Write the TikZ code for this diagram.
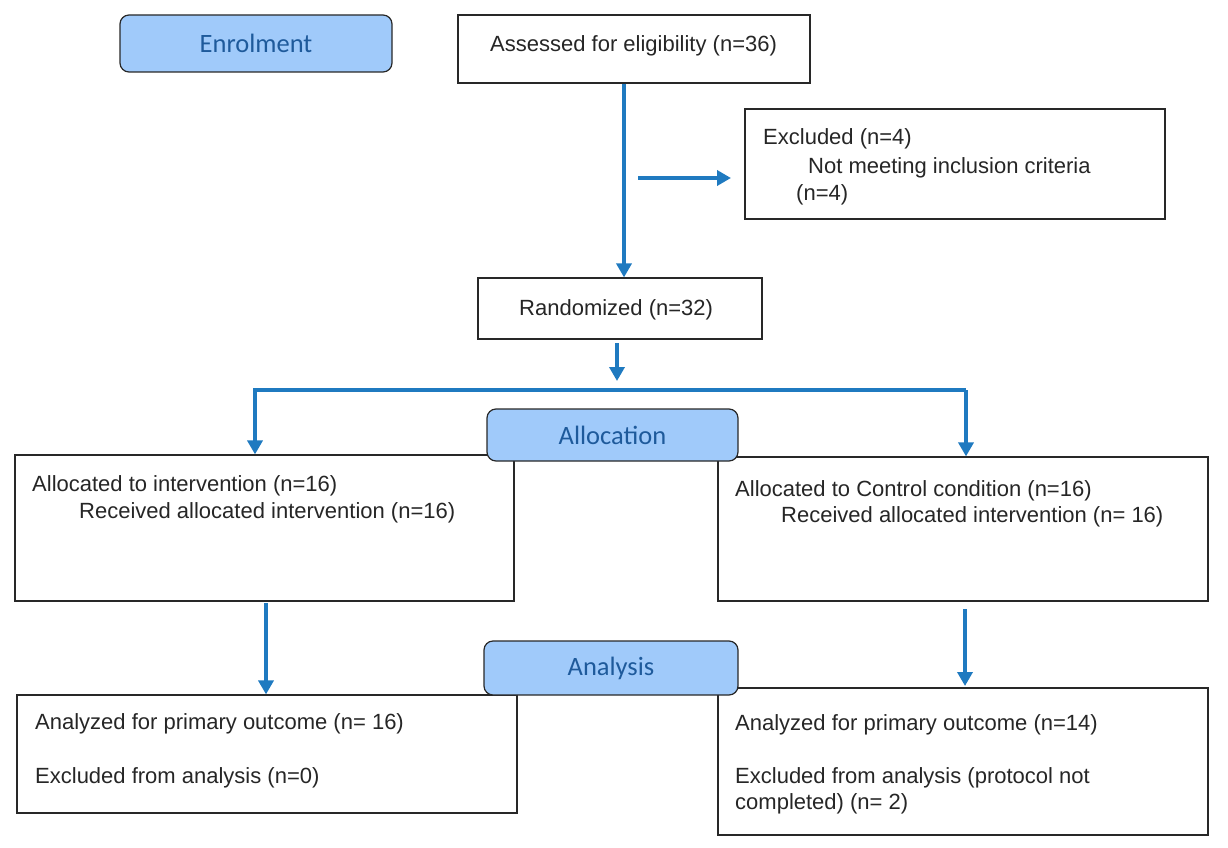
\documentclass[tikz,border=0pt]{standalone}
\usepackage{fontspec}
\setmainfont{Liberation Sans}
\newfontfamily\calib{Carlito}
\usetikzlibrary{arrows.meta,calc}
\definecolor{arrblue}{RGB}{31,122,192}
\definecolor{hdrfill}{RGB}{160,202,250}
\definecolor{hdrtext}{RGB}{30,90,155}
\definecolor{boxline}{RGB}{40,40,40}
\begin{document}
\begin{tikzpicture}[x=1pt,y=-1pt,
  box/.style={draw=boxline,line width=1.2pt,fill=white,inner sep=0pt,rectangle},
  hdr/.style={draw=boxline,line width=1.2pt,fill=hdrfill,rounded corners=9pt,inner sep=0pt,font=\calib\fontsize{26.5}{30}\selectfont,text=hdrtext},
  txt/.style={anchor=base west,inner sep=0pt,font=\fontsize{22}{26}\selectfont,text=black!85},
  arr/.style={draw=arrblue,line width=3.5pt,-{Triangle[width=15pt,length=14pt]}},
  arrline/.style={draw=arrblue,line width=3.5pt}
]
\useasboundingbox (0,0) rectangle (1228,848);
% boxes
\node[box,minimum width=352pt,minimum height=68pt] (assess) at (634,49) {};
\node[box,minimum width=420pt,minimum height=110pt] (excl) at (955,164) {};
\node[box,minimum width=284pt,minimum height=61pt] (rand) at (620,308.5) {};
\node[box,minimum width=499pt,minimum height=146pt] (lalloc) at (264.5,528) {};
\node[box,minimum width=490pt,minimum height=144pt] (ralloc) at (963,529) {};
\node[box,minimum width=500pt,minimum height=118pt] (lana) at (267,754) {};
\node[box,minimum width=490pt,minimum height=147pt] (rana) at (963,761.5) {};
% headers
\node[hdr,minimum width=272pt,minimum height=57pt] (enrol) at (256,43.5) {Enrolment};
\node[hdr,minimum width=251pt,minimum height=52pt] (alloc) at (612.5,435) {Allocation};
\node[hdr,minimum width=254pt,minimum height=54pt] (anal) at (611,668) {Analysis};
% texts
\node[txt] (t1) at (490,52) {Assessed for eligibility (n=36)};
\node[txt] (t2) at (763,145) {Excluded (n=4)};
\node[txt] (t3) at (808,173) {Not meeting inclusion criteria};
\node[txt] (t4) at (796,200) {(n=4)};
\node[txt] (t5) at (519,315) {Randomized (n=32)};
\node[txt] (t6) at (32,491) {Allocated to intervention (n=16)};
\node[txt] (t7) at (79,518) {Received allocated intervention (n=16)};
\node[txt] (t8) at (735,496) {Allocated to Control condition (n=16)};
\node[txt] (t9) at (781,522) {Received allocated intervention (n= 16)};
\node[txt] (t10) at (35,729) {Analyzed for primary outcome (n= 16)};
\node[txt] (t11) at (35,783) {Excluded from analysis (n=0)};
\node[txt] (t12) at (735,730) {Analyzed for primary outcome (n=14)};
\node[txt] (t13) at (735,783) {Excluded from analysis (protocol not};
\node[txt] (t14) at (735,809) {completed) (n= 2)};
% connectors
\coordinate (ex0) at (638,178);
\coordinate (ex1) at (731,178);
\coordinate (r0) at (617,343);
\coordinate (r1) at (617,381);
\coordinate (bl) at (255,390);
\coordinate (br) at (966,390);
\coordinate (la0) at (266,603);
\coordinate (ra0) at (965,609);
\coordinate (ra1) at (965,686);
\draw[arr] (assess.south -| 624,0) -- (rand.north -| 624,0);
\draw[arr] (ex0) -- (ex1);
\draw[arr] (r0) -- (r1);
\draw[arr] (br) -- (bl) -- (lalloc.north -| bl);
\draw[arr] (br) -- (ralloc.north -| br);
\draw[arr] (la0) -- (lana.north -| la0);
\draw[arr] (ra0) -- (ra1);
\end{tikzpicture}
\end{document}
